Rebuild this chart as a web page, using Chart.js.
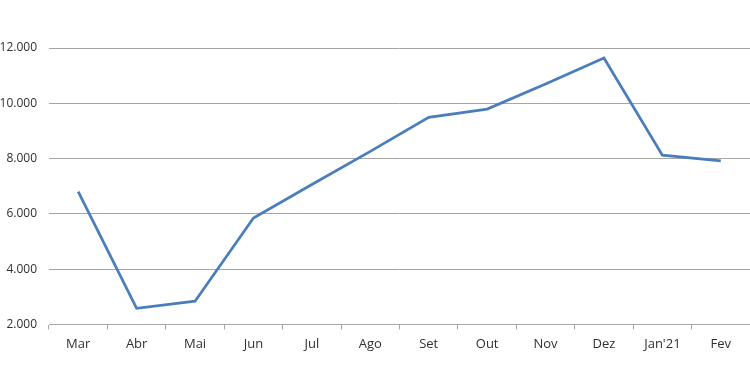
<!DOCTYPE html>
<html>
<head>
<meta charset="utf-8">
<script src="https://cdn.jsdelivr.net/npm/chart.js@4/dist/chart.umd.min.js"></script>
<style>
  html, body { margin: 0; padding: 0; background: #ffffff; }
  #wrap { width: 750px; height: 375px; }
</style>
</head>
<body>
<div id="wrap"><canvas id="c" width="750" height="375"></canvas></div>
<script>
const categories = ["Mar", "Abr", "Mai", "Jun", "Jul", "Ago", "Set", "Out", "Nov", "Dez", "Jan'21", "Fev"];
const values = [6800, 2580, 2840, 5850, 7060, 8260, 9490, 9790, 10700, 11640, 8120, 7920];
const yTicks = [2000, 4000, 6000, 8000, 10000, 12000];

function fmt(v) {
  return String(v).replace(/\B(?=(\d{3})+(?!\d))/g, ".");
}

new Chart(document.getElementById('c'), {
  type: 'line',
  data: {
    labels: categories,
    datasets: [{
      data: values,
      borderColor: '#4a7ebb',
      borderWidth: 2.75,
      pointRadius: 0,
      pointHoverRadius: 0,
      tension: 0,
      fill: false
    }]
  },
  options: {
    responsive: false,
    animation: false,
    layout: { padding: { top: 48, right: 0, bottom: 16, left: 0 } },
    plugins: { legend: { display: false }, tooltip: { enabled: false } },
    scales: {
      x: {
        offset: true,
        grid: {
          display: true,
          offset: true,
          drawOnChartArea: false,
          drawTicks: true,
          tickLength: 5,
          color: '#a6a6a6',
          lineWidth: 1
        },
        border: { display: true, color: '#a6a6a6', width: 1 },
        ticks: {
          color: '#303030',
          font: { family: 'Open Sans', size: 13 },
          padding: 7,
          maxRotation: 0,
          autoSkip: false
        }
      },
      y: {
        min: 2000,
        max: 12000,
        afterBuildTicks: (axis) => { axis.ticks = yTicks.map(v => ({ value: v })); },
        afterFit: (axis) => { axis.width = 49; },
        grid: {
          color: '#a6a6a6',
          lineWidth: 1,
          drawTicks: false
        },
        border: { display: false },
        ticks: {
          color: '#303030',
          font: { family: 'Open Sans', size: 12 },
          padding: 12,
          callback: (v) => fmt(v)
        }
      }
    }
  }
});
</script>
</body>
</html>
